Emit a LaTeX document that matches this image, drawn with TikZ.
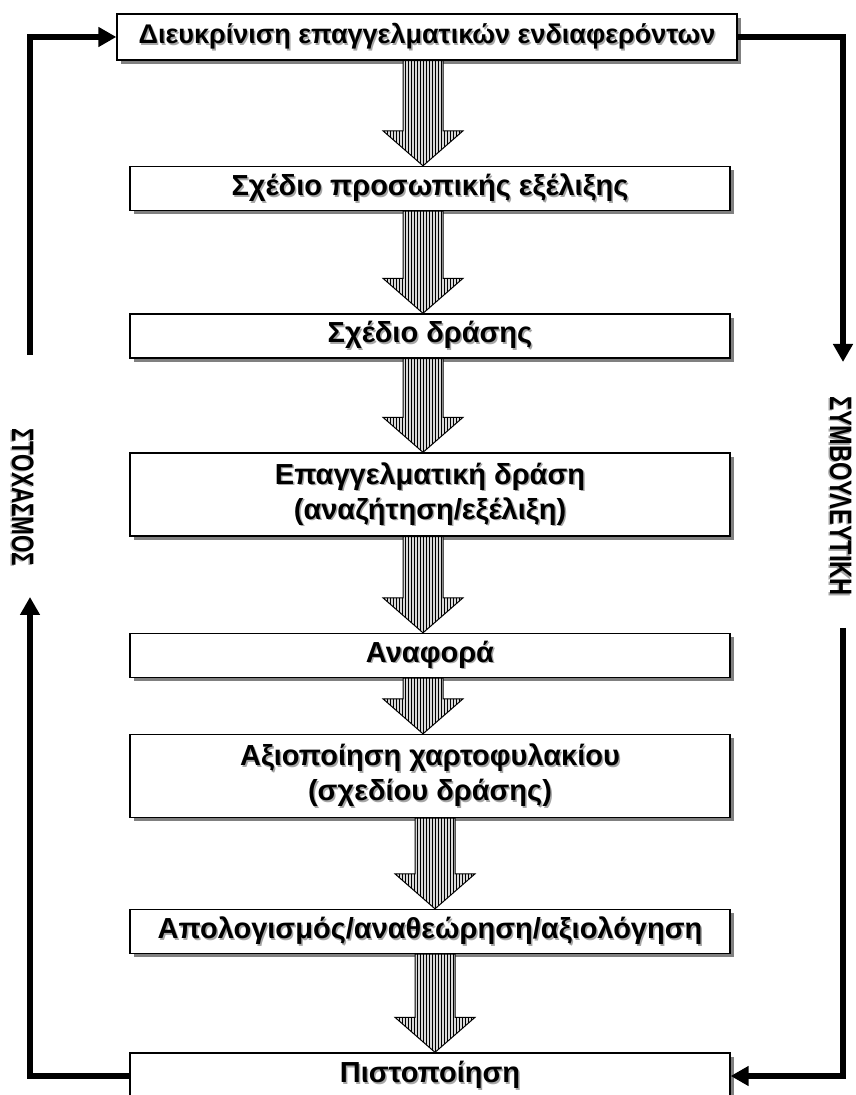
\documentclass[tikz,border=0pt]{standalone}
\usepackage{fontspec}
\setmainfont{Liberation Sans}
\usetikzlibrary{calc,arrows.meta,shadows,patterns}
% text with a grey shadow behind it
\newcommand{\shtxt}[1]{\rlap{\kern1.5pt\raisebox{-1.5pt}{\color{gray!70}#1}}#1}
\tikzset{
    stage/.style={
        draw,
        line width=1.3pt,
        fill=white,
        align=center,
        minimum width=600pt,
        minimum height=44pt,
        font=\bfseries\fontsize{29}{35}\selectfont,
        drop shadow={shadow xshift=4pt, shadow yshift=-4pt, fill=gray, opacity=1},
    },
    % Block arrow with vertical hatching
    hatched/.style={
        draw,
        line width=1pt,
        fill=gray!30,
        postaction={pattern=vertical lines},
    },
    feedback/.style={
        line width=6pt,
        -{Triangle[length=18pt,width=19pt]},
    },
    side/.style={
        rotate=-90,
        xscale=0.72,
        font=\bfseries\fontsize{31}{31}\selectfont,
    },
}
% #1 upper stage, #2 lower stage, #3 shift of the arrow from the centre
\newcommand{\fatarrow}[3]{%
    \draw[hatched]
      ($(#1.south -| #2.north)+(#3-20,0)$) -- ($(#2.north)+(#3-20,35)$)
      -- ($(#2.north)+(#3-40,35)$) -- ($(#2.north)+(#3,0)$)
      -- ($(#2.north)+(#3+40,35)$) -- ($(#2.north)+(#3+20,35)$)
      -- ($(#1.south -| #2.north)+(#3+20,0)$) -- cycle;
}

\begin{document}
\begin{tikzpicture}[x=1pt, y=1pt]
    \useasboundingbox (0,0) rectangle (855,1095);

    % The stages, top to bottom
    \node[stage, minimum width=620pt, minimum height=46pt,
      font=\bfseries\fontsize{27}{32}\selectfont] (clarify) at (427,1058)
      {\shtxt{Διευκρίνιση επαγγελματικών ενδιαφερόντων}};
    \node[stage] (plan) at (430,906.5) {\shtxt{Σχέδιο προσωπικής εξέλιξης}};
    \node[stage] (action) at (430,759) {\shtxt{Σχέδιο δράσης}};
    \node[stage, minimum height=83pt] (work) at (430,600.5)
      {\shtxt{Επαγγελματική δράση}\\\shtxt{(αναζήτηση/εξέλιξη)}};
    \node[stage] (report) at (430,439.5) {\shtxt{Αναφορά}};
    \node[stage, minimum height=83pt] (folio) at (430,319)
      {\shtxt{Αξιοποίηση χαρτοφυλακίου}\\\shtxt{(σχεδίου δράσης)}};
    \node[stage] (review) at (430,163.5) {\shtxt{Απολογισμός/αναθεώρηση/αξιολόγηση}};
    \node[stage, minimum height=46pt] (cert) at (430,19) {\shtxt{Πιστοποίηση}};

    % Hatched arrows between the stages
    \fatarrow{clarify}{plan}{-7}
    \fatarrow{plan}{action}{-7}
    \fatarrow{action}{work}{-7}
    \fatarrow{work}{report}{-7}
    \fatarrow{report}{folio}{-7}
    \fatarrow{folio}{review}{5}
    \fatarrow{review}{cert}{5}

    % Side labels, vertical text
    \node[side] (reflect) at (22,598) {\shtxt{ΣΤΟΧΑΣΜΟΣ}};
    \node[side, xscale=0.76/0.72] (counsel) at (840,599) {\shtxt{ΣΥΜΒΟΥΛΕΥΤΙΚΗ}};

    % Loop on the left
    \coordinate (leftend) at (30,498);
    \coordinate (leftstart) at (30,740);
    \draw[feedback] (cert.west) -| (leftend);
    \draw[feedback] (leftstart) |- (clarify.west);
    % Loop on the right
    \coordinate (rightend) at (843,733);
    \coordinate (rightstart) at (843,467);
    \draw[feedback] (clarify.east) -| (rightend);
    \draw[feedback] (rightstart) |- (cert.east);
\end{tikzpicture}
\end{document}
